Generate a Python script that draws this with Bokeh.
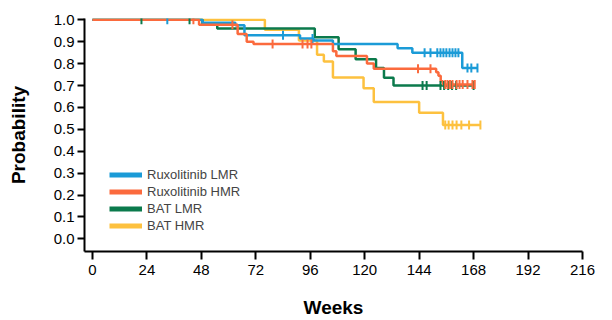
import numpy as np
from bokeh.plotting import figure
from bokeh.models import Range1d, FixedTicker, Legend, LegendItem, PrintfTickFormatter
from bokeh.embed import file_html
from bokeh.resources import INLINE

# ---- data (weeks, survival probability) ----
rux_lmr_t = [0, 48.5, 63, 67, 91.5, 97.5, 106, 134.5, 141, 163, 169.7]
rux_lmr_p = [1.0, 0.987, 0.975, 0.93, 0.915, 0.905, 0.89, 0.87, 0.85, 0.78, 0.78]
rux_lmr_cens = [33, 84, 97, 146.4, 149, 152, 153.4, 154.7, 156, 157.4, 158.7, 160, 161.3, 165.3, 167, 169.7]

rux_hmr_t = [0, 47, 64, 68, 71, 106, 107.5, 121, 124, 151.5, 152.5, 153.5, 154.5, 168.5]
rux_hmr_p = [1.0, 0.977, 0.935, 0.90, 0.89, 0.857, 0.835, 0.80, 0.777, 0.76, 0.745, 0.72, 0.705, 0.705]
rux_hmr_cens = [44.5, 61.7, 79.4, 92.6, 94.8, 96.5, 143.5, 149, 155.5, 156.5, 157.6, 158.7, 160.5, 161.8, 163.2, 165.3, 167.5, 168.5]

bat_lmr_t = [0, 48.5, 55, 98, 108.5, 116, 125, 128.5, 132.7, 168]
bat_lmr_p = [1.0, 0.98, 0.96, 0.92, 0.866, 0.82, 0.78, 0.735, 0.70, 0.70]
bat_lmr_cens = [21.6, 42.8, 145.5, 147.3, 153.4, 155, 156.8, 158.5, 160.3, 168]

bat_hmr_t = [0, 76, 91, 99, 102, 106, 119.5, 124, 144, 154.5, 171]
bat_hmr_p = [1.0, 0.955, 0.905, 0.84, 0.81, 0.737, 0.687, 0.625, 0.576, 0.52, 0.52]
bat_hmr_cens = [155.5, 157, 158.7, 160.5, 162.6, 166, 171]

series_names = ["Ruxolitinib LMR", "Ruxolitinib HMR", "BAT LMR", "BAT HMR"]
colors = ["#1b9bd7", "#fb6a3d", "#0b7a4c", "#fdc13f"]

x_ticks = [0, 24, 48, 72, 96, 120, 144, 168, 192, 216]
y_ticks = [0.0, 0.1, 0.2, 0.3, 0.4, 0.5, 0.6, 0.7, 0.8, 0.9, 1.0]

FONT = "Liberation Sans"

p = figure(width=612, height=320, x_range=Range1d(-3.5, 216), y_range=Range1d(-0.058, 1.006),
           output_backend="svg", toolbar_location=None,
           min_border_left=84, min_border_right=30, min_border_top=18, min_border_bottom=65)
p.xgrid.visible = False
p.ygrid.visible = False
p.outline_line_color = None
p.background_fill_color = "white"


def step_value(ts, ps, t):
    idx = np.searchsorted(np.array(ts), t, side="right") - 1
    return ps[max(idx, 0)]

curves = {
    "Ruxolitinib LMR": (rux_lmr_t, rux_lmr_p, rux_lmr_cens),
    "Ruxolitinib HMR": (rux_hmr_t, rux_hmr_p, rux_hmr_cens),
    "BAT LMR": (bat_lmr_t, bat_lmr_p, bat_lmr_cens),
    "BAT HMR": (bat_hmr_t, bat_hmr_p, bat_hmr_cens),
}

draw_order = ["BAT HMR", "BAT LMR", "Ruxolitinib LMR", "Ruxolitinib HMR"]
for name in draw_order:
    ts, ps, cens = curves[name]
    c = colors[series_names.index(name)]
    p.step(ts, ps, mode="after", line_color=c, line_width=2.5)
for name in draw_order:
    ts, ps, cens = curves[name]
    c = colors[series_names.index(name)]
    cy = [step_value(ts, ps, t) for t in cens]
    p.scatter(cens, cy, marker="dash", angle=np.pi / 2, size=9, line_color=c, line_width=2)

# legend-only renderers (thicker swatches), placed outside the visible range
items = []
for name, c in zip(series_names, colors):
    r = p.line([-20, -19], [-1, -1], line_color=c, line_width=5)
    items.append(LegendItem(label=name, renderers=[r]))
legend = Legend(items=items, location=(25, 17), border_line_color=None, background_fill_alpha=0,
                padding=0, margin=0, spacing=0, glyph_width=33, glyph_height=17, label_height=17,
                label_standoff=5, label_text_font_size="13px", label_text_font=FONT)
p.add_layout(legend, "center")

for ax in (p.xaxis[0], p.yaxis[0]):
    ax.axis_line_width = 2
    ax.major_tick_line_width = 2
    ax.minor_tick_line_color = None
    ax.major_tick_in = 0
    ax.major_label_text_font = FONT
    ax.major_label_text_font_size = "15px"
    ax.major_label_text_color = "black"
    ax.axis_label_text_font = FONT
    ax.axis_label_text_font_size = "19px"
    ax.axis_label_text_font_style = "bold"
    ax.axis_label_text_color = "black"

p.xaxis.ticker = FixedTicker(ticks=x_ticks)
p.yaxis.ticker = FixedTicker(ticks=y_ticks)
p.yaxis.formatter = PrintfTickFormatter(format="%.1f")
p.xaxis.major_tick_out = 8
p.yaxis.major_tick_out = 7
p.xaxis.major_label_standoff = 5
p.yaxis.major_label_standoff = 3
p.xaxis.axis_label = "Weeks"
p.yaxis.axis_label = "Probability"
p.xaxis.axis_label_standoff = 19
p.yaxis.axis_label_standoff = 22

open("out.html", "w").write(file_html(p, INLINE))
